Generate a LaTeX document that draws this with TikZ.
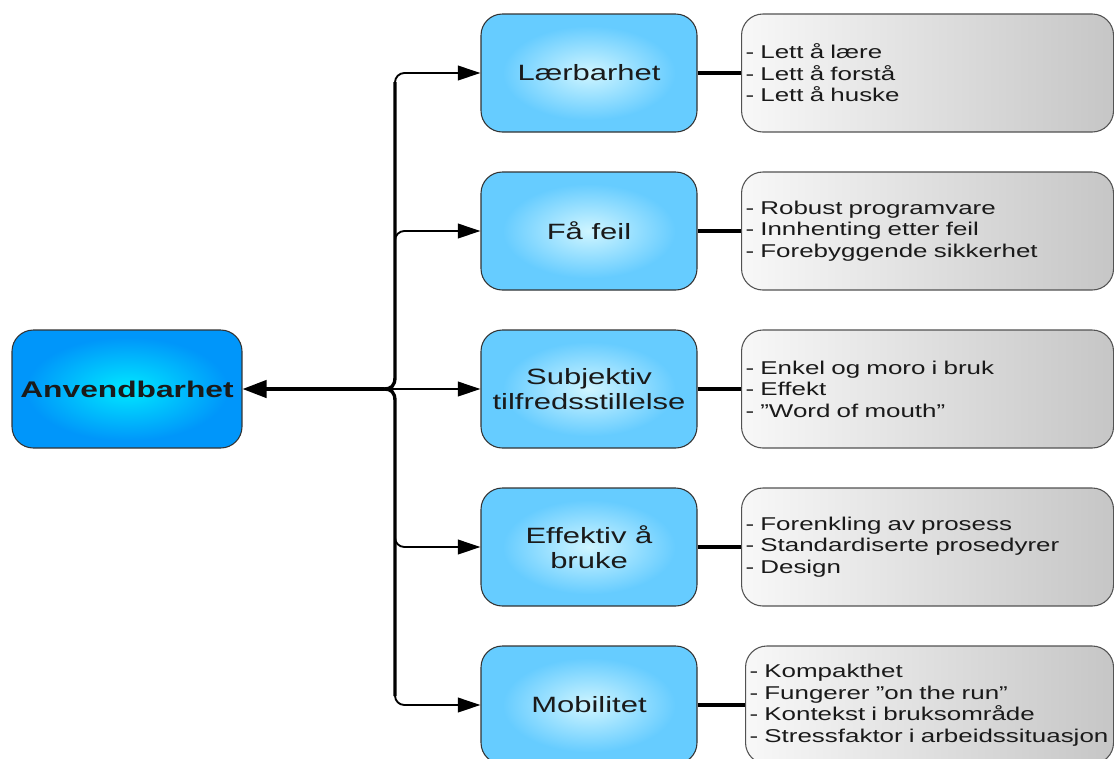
\documentclass[tikz,border=0pt]{standalone}
\usepackage{fontspec}
\setmainfont{Liberation Sans}[FakeStretch=1.4]
\usetikzlibrary{arrows.meta}

\definecolor{rootin}{HTML}{00E8FF}
\definecolor{rootout}{HTML}{0096FA}
\definecolor{midin}{HTML}{CFF5FF}
\definecolor{midout}{HTML}{66CCFF}
\definecolor{notel}{HTML}{F8F8F8}
\definecolor{noter}{HTML}{C6C6C6}
\definecolor{edge}{HTML}{333333}
\definecolor{ink}{HTML}{1A1A1A}

\pgfdeclareradialshading{rootglow}{\pgfpoint{0bp}{0bp}}{color(0bp)=(rootin); color(22bp)=(rootout); color(50bp)=(rootout)}
\pgfdeclareradialshading{midglow}{\pgfpoint{0bp}{0bp}}{color(0bp)=(midin); color(20bp)=(midout); color(50bp)=(midout)}

\tikzset{
  rootbox/.style={draw=edge, line width=0.8pt, rounded corners=16pt, shade, shading=rootglow,
    minimum width=172.5pt, minimum height=88.5pt, inner sep=0pt, text=ink,
    font=\fontsize{17}{20}\selectfont\bfseries},
  midbox/.style={draw=edge, line width=0.8pt, rounded corners=16pt, shade, shading=midglow,
    minimum width=162pt, minimum height=88.5pt, inner sep=0pt, align=center, text=ink,
    font=\fontsize{16.6}{18.75}\selectfont},
  notebox/.style={draw=edge!85, line width=0.8pt, rounded corners=16pt, left color=notel, right color=noter,
    minimum height=88.5pt, text width=273pt, inner xsep=3pt, inner ysep=0pt, align=left, anchor=west, text=ink,
    font=\fontsize{13.9}{16.1}\selectfont},
  bus/.style={line width=2.5pt, black},
  branch/.style={line width=1.4pt, black, rounded corners=7pt, -{Triangle[length=17pt, width=11pt]}},
  mainlink/.style={line width=2.5pt, black, -{Triangle[length=18pt, width=13pt]}},
  notelink/.style={line width=3pt, black},
}

\begin{document}
\begin{tikzpicture}[x=0.75pt, y=-0.75pt]
\clip (0,0) rectangle (1114,758);

% main concept
\node[rootbox] (root) at (127,389) {Anvendbarhet};

% five aspects
\node[midbox] (m1) at (589,73)  {Lærbarhet};
\node[midbox] (m2) at (589,231) {Få feil};
\node[midbox] (m3) at (589,389) {Subjektiv\\tilfredsstillelse};
\node[midbox] (m4) at (589,547) {Effektiv å\\bruke};
\node[midbox] (m5) at (589,705) {Mobilitet};

% notes for each aspect
\node[notebox] (n1) at (741,73)  {- Lett å lære\\- Lett å forstå\\- Lett å huske};
\node[notebox] (n2) at (741,231) {- Robust programvare\\- Innhenting etter feil\\- Forebyggende sikkerhet};
\node[notebox] (n3) at (741,389) {- Enkel og moro i bruk\\- Effekt\\- ”Word of mouth”};
\node[notebox] (n4) at (741,547) {- Forenkling av prosess\\- Standardiserte prosedyrer\\- Design};
\node[notebox, text width=270pt] (n5) at (745,705) {- Kompakthet\\- Fungerer ”on the run”\\- Kontekst i bruksområde\\- Stressfaktor i arbeidssituasjon};

% distribution bus
\coordinate (hub) at (384,389);
\coordinate (busn) at (395,300);
\coordinate (buss) at (395,480);

\draw[branch] (busn) |- (m1.west);
\draw[branch] (busn) |- (m2.west);
\draw[branch] (buss) |- (m4.west);
\draw[branch] (buss) |- (m5.west);
\draw[branch, rounded corners=0pt] (hub) -- (m3.west);

\draw[bus] (395,82) -- (395,377) .. controls (395,386) and (391,389) .. (hub);
\draw[bus] (395,696) -- (395,401) .. controls (395,392) and (391,389) .. (hub);
\draw[mainlink] (hub) -- (root.east);

% links to notes
\draw[notelink] (m1.east) -- (n1.west);
\draw[notelink] (m2.east) -- (n2.west);
\draw[notelink] (m3.east) -- (n3.west);
\draw[notelink] (m4.east) -- (n4.west);
\draw[notelink] (m5.east) -- (n5.west);
\end{tikzpicture}
\end{document}
